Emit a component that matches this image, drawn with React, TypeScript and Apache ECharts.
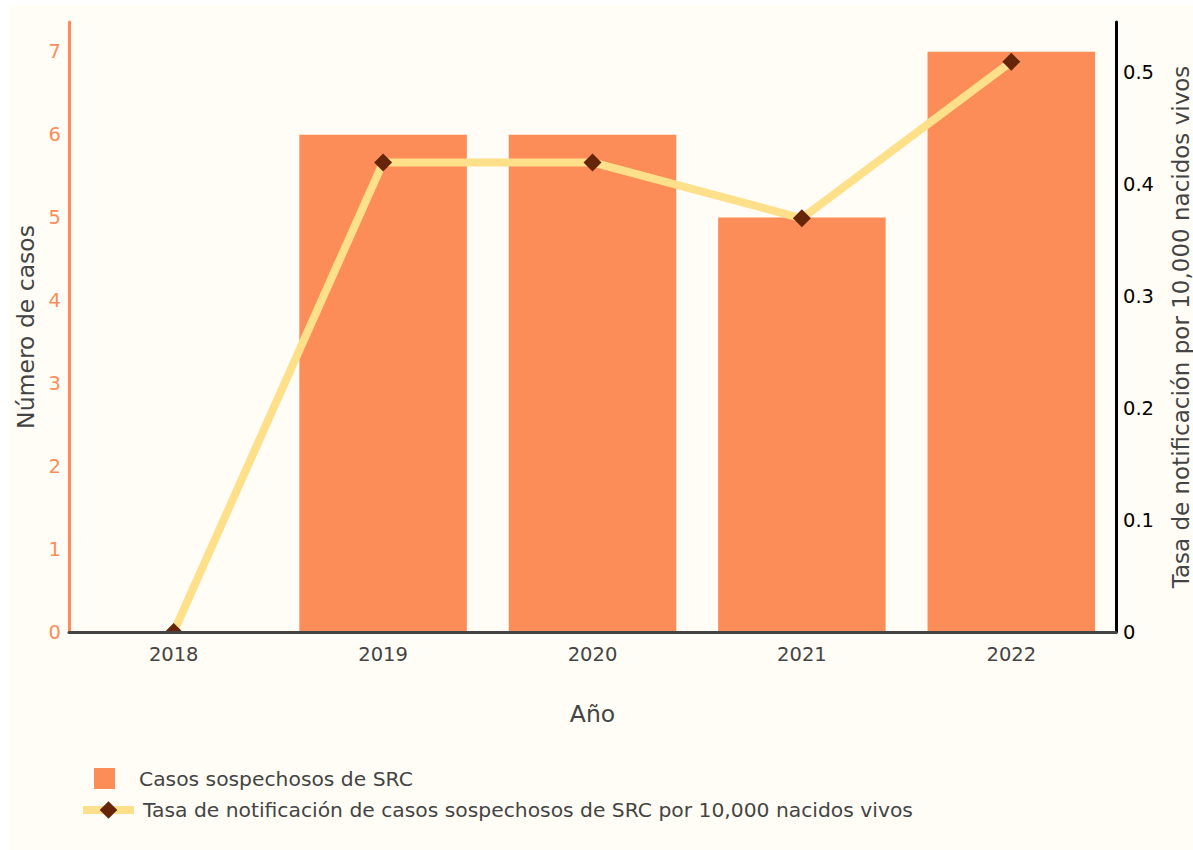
import React, { useEffect, useRef } from "react";
import * as echarts from "echarts";

const years = ["2018", "2019", "2020", "2021", "2022"];
const casos = [0, 6, 6, 5, 7];
const tasa = [0, 0.42, 0.42, 0.37, 0.51];
const leftTicks = [0, 1, 2, 3, 4, 5, 6, 7];
const rightTicks = [0, 0.1, 0.2, 0.3, 0.4, 0.5];

const barName = "Casos sospechosos de SRC";
const lineName = "Tasa de notificación de casos sospechosos de SRC por 10,000 nacidos vivos";

const FONT = "DejaVu Sans";
const BG = "#fffdf5";
const ORANGE = "#fc8d59";
const YELLOW = "#fee08b";
const BROWN = "#662506";
const TICK = 19.5;
const TITLE = 23.5;
const LEG = 20.3;

export default function App() {
  const ref = useRef<HTMLDivElement>(null);
  useEffect(() => {
    document.body.style.margin = "0";
    if (!ref.current) return;
    const chart = echarts.init(ref.current, undefined, { renderer: "svg" });
    const lineData = tasa.map((v) =>
      v === 0
        ? {
            value: v,
            symbol: "path://M0,10 L10,0 L20,10 Z",
            symbolSize: [18, 9],
            symbolOffset: [0, -4.5],
          }
        : { value: v }
    );
    chart.setOption({
      animation: false,
      backgroundColor: BG,
      textStyle: { fontFamily: FONT },
      grid: {
        left: 60,
        right: 77,
        top: 17,
        bottom: 218,
        containLabel: false,
        outerBoundsMode: "none",
      },
      legend: [
        {
          data: [barName],
          orient: "vertical",
          left: 85,
          top: 763,
          padding: 0,
          itemWidth: 21,
          itemHeight: 21,
          icon: "rect",
          textStyle: { fontFamily: FONT, fontSize: LEG, color: "#444", padding: [0, 0, 0, 19] },
          selectedMode: false,
        },
        {
          data: [lineName],
          orient: "vertical",
          left: 70,
          top: 795,
          padding: 0,
          itemWidth: 51,
          itemHeight: 22,
          lineStyle: { width: 8, color: YELLOW },
          textStyle: { fontFamily: FONT, fontSize: LEG, color: "#444", padding: [0, 0, 0, 4] },
          selectedMode: false,
        },
      ],
      xAxis: {
        type: "category",
        data: years,
        z: 5,
        name: "Año",
        nameLocation: "middle",
        nameGap: 70,
        nameTextStyle: { fontFamily: FONT, fontSize: TITLE, color: "#444" },
        axisLine: { lineStyle: { color: "#444", width: 3 } },
        axisTick: { show: false },
        axisLabel: { fontFamily: FONT, fontSize: TICK, color: "#444", margin: 12 },
        splitLine: { show: false },
      },
      yAxis: [
        {
          type: "value",
          min: 0,
          max: 7.36,
          interval: 1,
          name: "Número de casos",
          nameLocation: "middle",
          nameGap: 31,
          nameTextStyle: { fontFamily: FONT, fontSize: TITLE, color: "#444" },
          axisLine: { show: true, lineStyle: { color: ORANGE, width: 3 } },
          axisTick: { show: false },
          axisLabel: {
            fontFamily: FONT,
            fontSize: TICK,
            color: ORANGE,
            margin: 8,
            showMaxLabel: false,
            formatter: (v: number) => (leftTicks.includes(Math.round(v * 100) / 100) ? String(v) : ""),
          },
          splitLine: { show: false },
        },
        {
          type: "value",
          min: 0,
          max: 0.5456,
          interval: 0.1,
          position: "right",
          name: "Tasa de notificación por 10,000 nacidos vivos",
          nameLocation: "middle",
          nameGap: 53,
          nameTextStyle: { fontFamily: FONT, fontSize: 23, color: "#444" },
          axisLine: { show: true, lineStyle: { color: "#000", width: 3 } },
          axisTick: { show: false },
          axisLabel: {
            fontFamily: FONT,
            fontSize: TICK,
            color: "#000",
            margin: 7,
            showMaxLabel: false,
            formatter: (v: number) => {
              const r = Math.round(v * 10) / 10;
              return rightTicks.includes(r) ? (r === 0 ? "0" : String(r)) : "";
            },
          },
          splitLine: { show: false },
        },
      ],
      series: [
        {
          name: barName,
          type: "bar",
          data: casos,
          yAxisIndex: 0,
          barWidth: "80%",
          itemStyle: { color: ORANGE },
          z: 2,
        },
        {
          name: lineName,
          type: "line",
          data: lineData,
          yAxisIndex: 1,
          symbol: "diamond",
          symbolSize: 18,
          lineStyle: { color: YELLOW, width: 8 },
          itemStyle: { color: BROWN },
          z: 3,
        },
      ],
    });
    return () => chart.dispose();
  }, []);
  return (
    <div style={{ position: "relative", width: 1193, height: 850, background: "#fff" }}>
      <div ref={ref} style={{ position: "absolute", left: 9, top: 5, width: 1184, height: 845 }} />
    </div>
  );
}
